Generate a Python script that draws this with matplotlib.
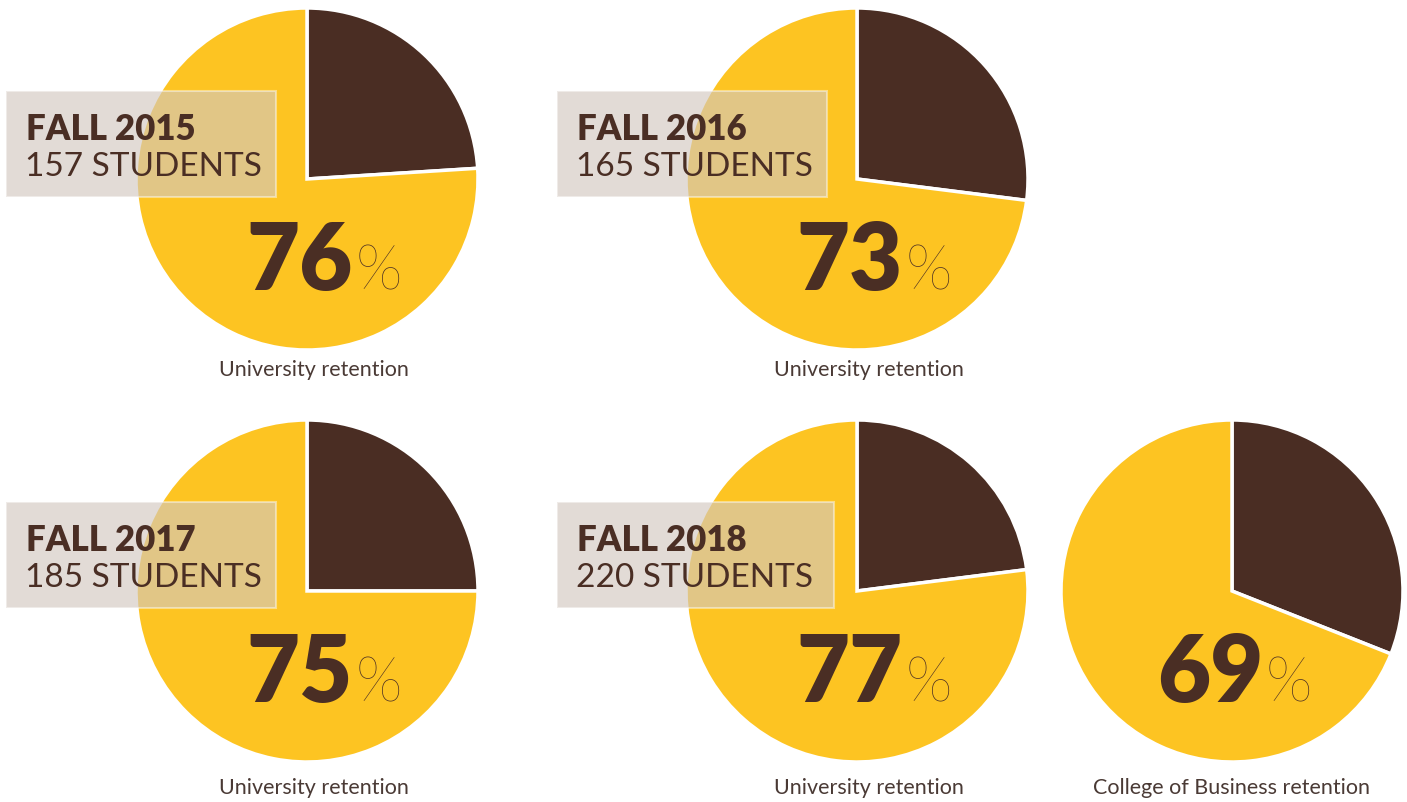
import matplotlib.pyplot as plt
from matplotlib.patches import Rectangle

# datos
cohortes = ['FALL 2015', 'FALL 2016', 'FALL 2017', 'FALL 2018', None]
estudiantes = ['157 STUDENTS', '165 STUDENTS', '185 STUDENTS', '220 STUDENTS', None]
retencion = [76, 73, 75, 77, 69]
etiquetas = ['University retention', 'University retention', 'University retention',
             'University retention', 'College of Business retention']

# posiciones en pixeles (origen arriba a la izquierda)
centros = [(307, 180), (857, 180), (307, 592), (857, 592), (1232, 592)]
radio = 171
cajas = [(6, 92, 270), (557, 92, 270), (6, 503, 270), (557, 503, 277), None]
etq_x = [314, 869, 314, 869, 1232]
etq_y = [370, 370, 788, 788, 788]

W, H = 1407, 803
amarillo = '#FDC422'
marron = '#4A2D23'
texto = '#4A2E24'

plt.rcParams['font.family'] = ['Lato', 'DejaVu Sans']

fig = plt.figure(figsize=(W / 100, H / 100), dpi=100)
ax = fig.add_axes([0, 0, 1, 1])


def Y(py):
    return H - py


for i, p in enumerate(retencion):
    cx, cy = centros[i]
    ax.pie([100 - p, p], colors=[marron, amarillo], startangle=90,
           counterclock=False, center=(cx, Y(cy)), radius=radio,
           wedgeprops=dict(edgecolor='white', linewidth=2.5), frame=True)

    # caja semitransparente con el año
    if cajas[i] is not None:
        bx, by, bw = cajas[i]
        ax.add_patch(Rectangle((bx, Y(by + 106)), bw, 106,
                               facecolor=(0.824, 0.784, 0.753, 0.64),
                               edgecolor=(1, 1, 1, 0.45), linewidth=1.5, zorder=5))
        ax.text(bx + 20, Y(by + 48), cohortes[i], fontsize=25, fontweight='heavy',
                color=texto, va='baseline', ha='left', zorder=6)
        ax.text(bx + 19, Y(by + 84), estudiantes[i], fontsize=24, fontweight='normal',
                color=texto, va='baseline', ha='left', zorder=6)

    # numero grande
    nx = cx + 46 if i < 4 else cx + 31
    ax.text(nx, Y(cy + 110), str(p), fontsize=66, fontweight='heavy',
            color=texto, va='baseline', ha='right', zorder=6)
    ax.text(nx + 3, Y(cy + 110), '%', fontsize=44, fontweight='light',
            color=texto, va='baseline', ha='left', zorder=6)

    ax.text(etq_x[i], Y(etq_y[i]), etiquetas[i], fontsize=15.5,
            color='#4A3A35', va='center', ha='center')

ax.set_xlim(0, W)
ax.set_ylim(0, H)
ax.set_aspect('equal')
ax.axis('off')

fig.savefig('out.png', dpi=100)
